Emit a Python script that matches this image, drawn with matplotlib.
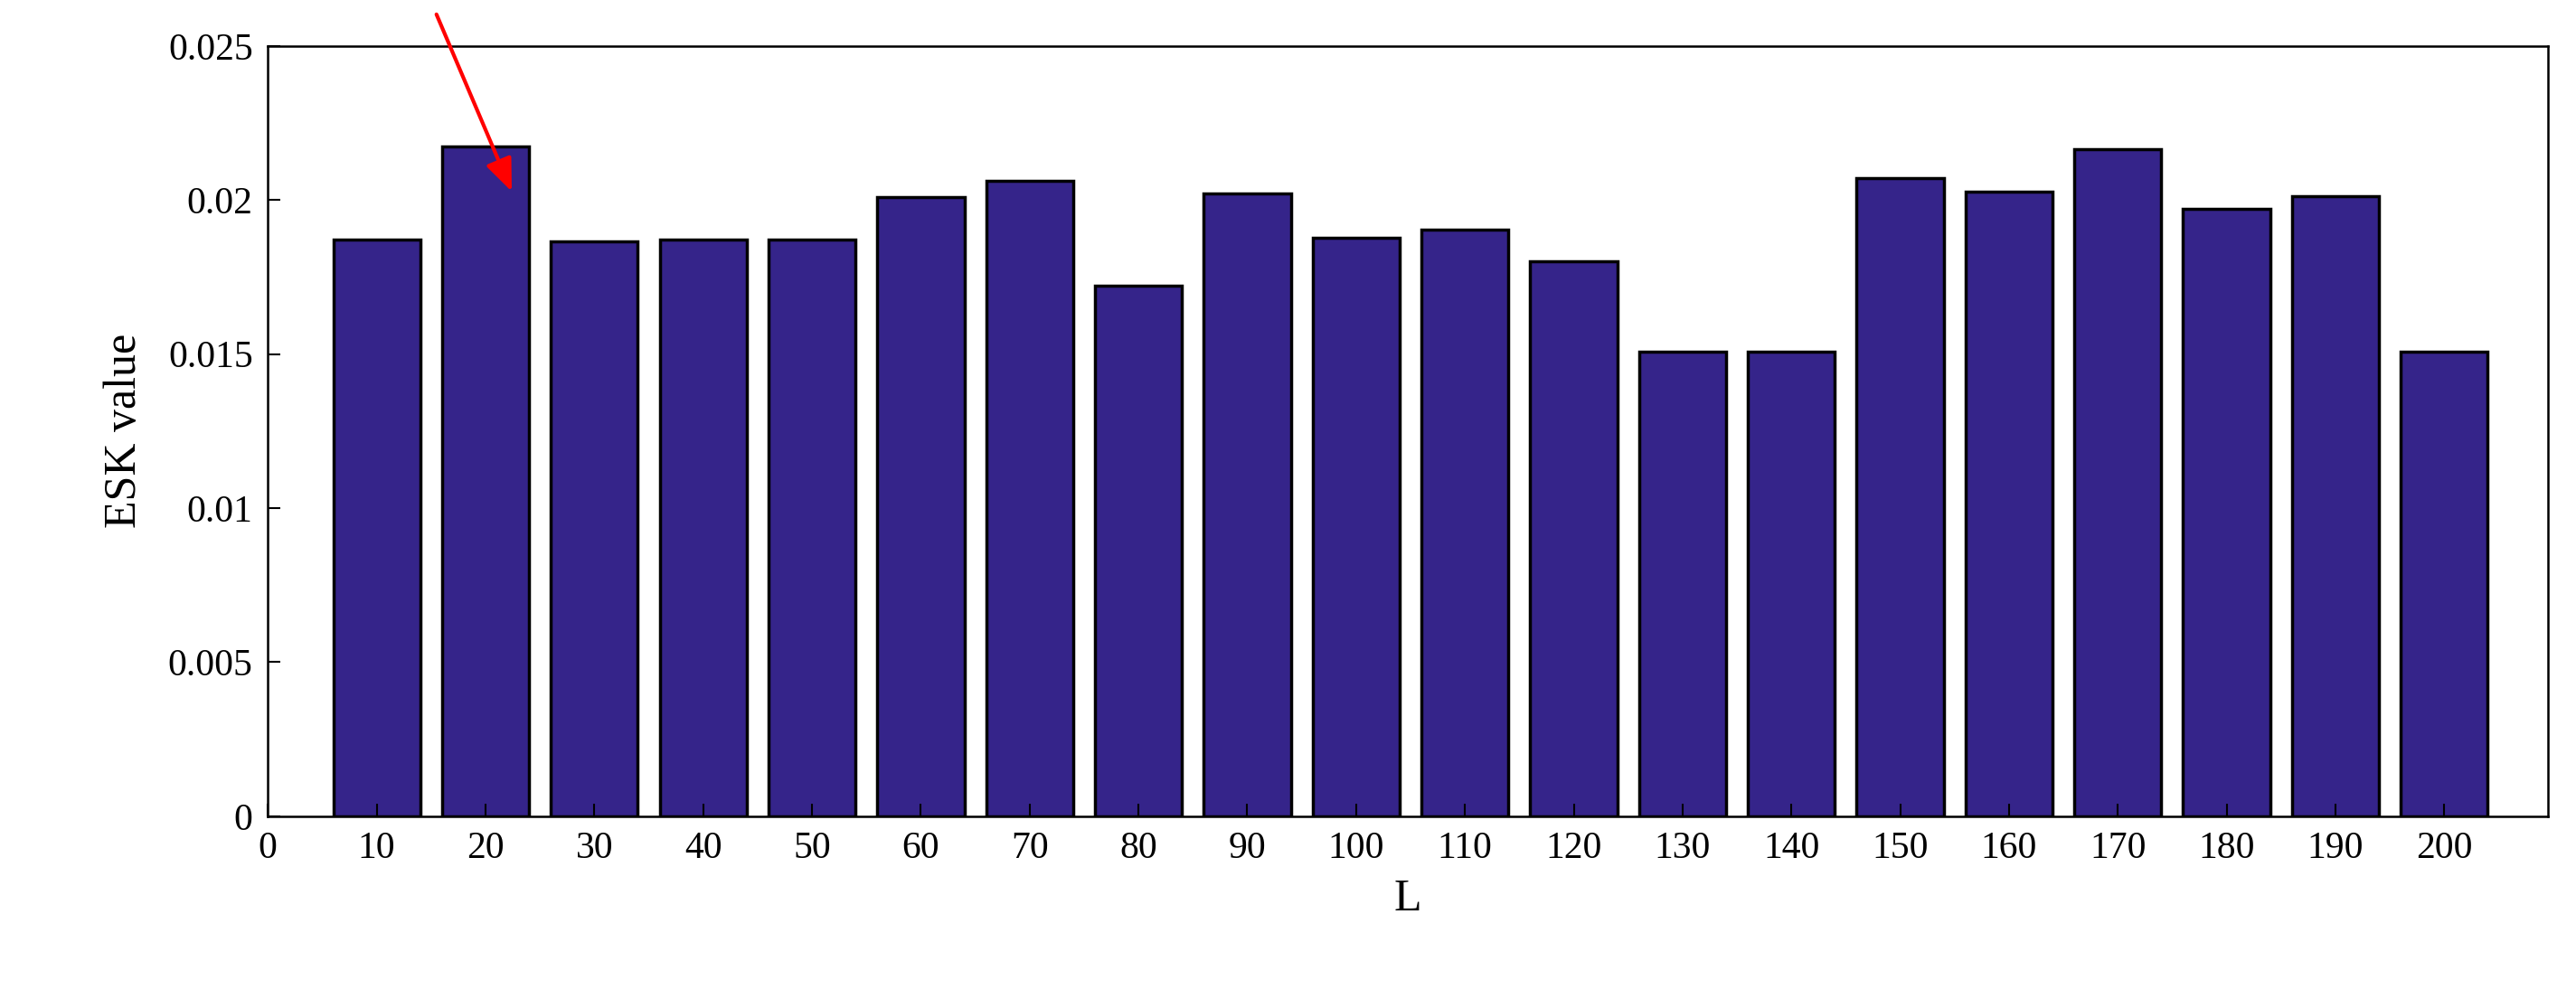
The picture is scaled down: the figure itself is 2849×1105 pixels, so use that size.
import matplotlib
matplotlib.use("Agg")
import matplotlib.pyplot as plt

L = [10,20,30,40,50,60,70,80,90,100,110,120,130,140,150,160,170,180,190,200]
esk = [0.01871,0.02175,0.01866,0.01871,0.01873,0.0201,0.02063,0.01722,0.0202,0.01876,
       0.01903,0.01802,0.01509,0.01509,0.02072,0.02026,0.02164,0.01972,0.02013,0.01509]
xticks = list(range(0, 201, 10))
yticks = [0,0.005,0.01,0.015,0.02,0.025]
ytlabels = ['0','0.005','0.01','0.015','0.02','0.025']

plt.rcParams['font.family'] = ['Liberation Serif', 'DejaVu Serif']
fig = plt.figure(figsize=(28.49, 11.05), dpi=100)
ax = fig.add_axes([0.104, 0.183, 0.885, 0.771])
ax.bar(L, esk, width=8, color='#35248A', edgecolor='black', linewidth=2.5)
ax.set_xlim(0, 209.5)
ax.set_ylim(0, 0.025)
ax.set_xticks(xticks)
ax.set_yticks(yticks)
ax.set_yticklabels(ytlabels)
ax.tick_params(direction='in', length=10, width=1.5, labelsize=30, pad=12)
for s in ax.spines.values():
    s.set_linewidth(1.8)
ax.set_xlabel('L', fontsize=36, labelpad=10)
ax.set_ylabel('ESK value', fontsize=36, labelpad=18)
ax.annotate('', xy=(22.5, 0.0202), xytext=(15.4, 0.0261),
            arrowprops=dict(arrowstyle='-|>,head_length=2.2,head_width=0.9', color='red', lw=3),
            annotation_clip=False)
fig.savefig('out.png', dpi=100)
